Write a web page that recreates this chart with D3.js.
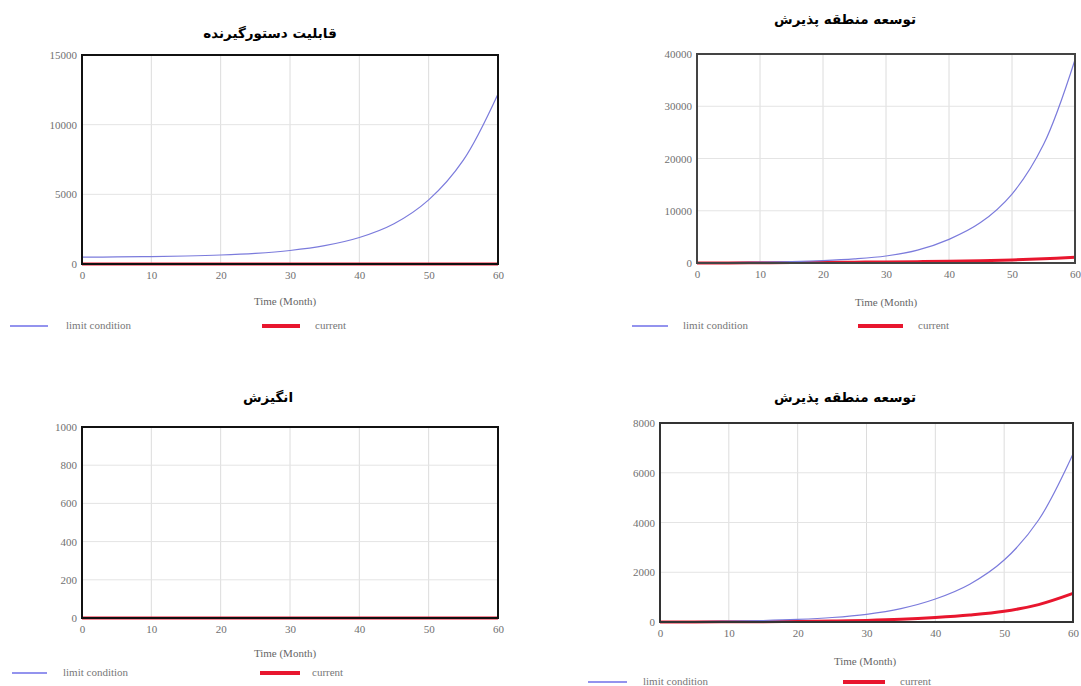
<!DOCTYPE html>
<html>
<head>
<meta charset="utf-8">
<script src="https://cdn.jsdelivr.net/npm/d3@7"></script>
<style>
  body { margin: 0; background: #fff; }
  svg { display: block; }
</style>
</head>
<body>
<svg id="chart" width="1081" height="686"></svg>
<script>
// ---- data (simulation output, monthly) ----
const months = [0, 5, 10, 15, 20, 25, 30, 35, 40, 45, 50, 55, 60];

const titles = ["قابلیت دستورگیرنده", "توسعه منطقه پذیرش", "انگیزش", "توسعه منطقه پذیرش"];
const seriesNames = ["limit condition", "current"];
const xLabel = "Time (Month)";
const xTicks = [0, 10, 20, 30, 40, 50, 60];

// panel 1: command-receiving capability
const limitCapability   = [491, 506, 531, 573, 645, 766, 970, 1315, 1900, 2887, 4600, 7450, 12200];
const currentCapability = [0, 0, 0, 0, 0, 0, 0, 0, 0, 0, 0, 0, 0];
const ticksCapability   = [0, 5000, 10000, 15000];

// panel 2: acceptance-zone development
const limitZoneA   = [50, 88, 152, 262, 452, 780, 1340, 2460, 4530, 7730, 13200, 22660, 38900];
const currentZoneA = [0, 20, 50, 80, 120, 160, 200, 260, 330, 430, 580, 800, 1100];
const ticksZoneA   = [0, 10000, 20000, 30000, 40000];

// panel 3: motivation
const limitMotivation   = [1000, 1000, 1000, 1000, 1000, 1000, 1000, 1000, 1000, 1000, 1000, 1000, 1000];
const currentMotivation = [0, 0, 0, 0, 0, 0, 0, 0, 0, 0, 0, 0, 0];
const ticksMotivation   = [0, 200, 400, 600, 800, 1000];

// panel 4: acceptance-zone development
const limitZoneB   = [12, 20, 35, 60, 105, 180, 310, 540, 925, 1520, 2490, 4100, 6750];
const currentZoneB = [0, 3, 8, 15, 25, 40, 65, 108, 180, 280, 430, 700, 1150];
const ticksZoneB   = [0, 2000, 4000, 6000, 8000];

// ---- layout of the four panels ----
const panels = [
  { title: titles[0], limit: limitCapability, current: currentCapability, ticks: ticksCapability,
    box: { l: 82, r: 498, t: 55, b: 264 }, titleX: 270, titleY: 38, xLabY: 302, xLabX: 285,
    legY: 326, leg: [10, 48, 66, 262, 300, 315], frame: "#111" },
  { title: titles[1], limit: limitZoneA, current: currentZoneA, ticks: ticksZoneA,
    box: { l: 697, r: 1075, t: 54, b: 263 }, titleX: 845, titleY: 24, xLabY: 303, xLabX: 886,
    legY: 326, leg: [632, 668, 683, 858, 903, 918], frame: "#444" },
  { title: titles[2], limit: limitMotivation, current: currentMotivation, ticks: ticksMotivation,
    box: { l: 82, r: 498, t: 427, b: 618 }, titleX: 268, titleY: 402, xLabY: 654, xLabX: 285,
    legY: 673, leg: [12, 47, 63, 260, 300, 312], frame: "#111" },
  { title: titles[3], limit: limitZoneB, current: currentZoneB, ticks: ticksZoneB,
    box: { l: 660, r: 1073, t: 423, b: 622 }, titleX: 845, titleY: 402, xLabY: 662, xLabX: 865,
    legY: 682, leg: [588, 627, 643, 843, 885, 900], frame: "#333" }
];

const limitColor = "#7b7bdc";
const currentColor = "#e8162e";
const serif = "'Liberation Serif', 'DejaVu Serif', serif";

const svg = d3.select("#chart");

panels.forEach(p => {
  const g = svg.append("g");
  const x = d3.scaleLinear().domain([0, 60]).range([p.box.l, p.box.r]);
  const y = d3.scaleLinear().domain([0, d3.max(p.ticks)]).range([p.box.b, p.box.t]);

  // title
  g.append("text")
    .attr("x", p.titleX).attr("y", p.titleY)
    .attr("text-anchor", "middle")
    .attr("direction", "rtl")
    .style("font-family", "'DejaVu Sans', sans-serif")
    .style("font-weight", "bold")
    .style("font-size", "13.5px")
    .text(p.title);

  // grid
  g.append("g").selectAll("line")
    .data(xTicks.slice(1, -1)).join("line")
    .attr("x1", d => x(d)).attr("x2", d => x(d))
    .attr("y1", p.box.t).attr("y2", p.box.b)
    .attr("stroke", "#dcdcdc").attr("stroke-width", 1);
  g.append("g").selectAll("line")
    .data(p.ticks.slice(1, -1)).join("line")
    .attr("x1", p.box.l).attr("x2", p.box.r)
    .attr("y1", d => y(d)).attr("y2", d => y(d))
    .attr("stroke", "#e4e4e4").attr("stroke-width", 1);

  // axes (labels only, the frame is drawn separately)
  const xa = g.append("g")
    .attr("transform", `translate(0,${p.box.b})`)
    .call(d3.axisBottom(x).tickValues(xTicks).tickSize(0).tickPadding(7).tickFormat(d3.format("d")));
  const ya = g.append("g")
    .attr("transform", `translate(${p.box.l},0)`)
    .call(d3.axisLeft(y).tickValues(p.ticks).tickSize(0).tickPadding(5).tickFormat(d3.format("d")));
  [xa, ya].forEach(a => {
    a.select(".domain").remove();
    a.selectAll("text")
      .style("font-family", serif)
      .style("font-size", "11px")
      .attr("fill", "#707070");
  });

  // series
  const line = vals => d3.line()
    .x((d, i) => x(months[i]))
    .y(d => y(d))
    .curve(d3.curveCatmullRom.alpha(0.5))(vals);

  g.append("path")
    .attr("d", line(p.current))
    .attr("fill", "none")
    .attr("stroke", currentColor)
    .attr("stroke-width", 3);
  g.append("path")
    .attr("d", line(p.limit))
    .attr("fill", "none")
    .attr("stroke", limitColor)
    .attr("stroke-width", 1.2);

  // frame
  g.append("rect")
    .attr("x", p.box.l).attr("y", p.box.t)
    .attr("width", p.box.r - p.box.l).attr("height", p.box.b - p.box.t)
    .attr("fill", "none").attr("stroke", p.frame).attr("stroke-width", 2);

  // x-axis title
  g.append("text")
    .attr("x", p.xLabX).attr("y", p.xLabY)
    .attr("text-anchor", "middle")
    .attr("dominant-baseline", "middle")
    .style("font-family", serif)
    .style("font-size", "11px")
    .attr("fill", "#666")
    .text(xLabel);

  // legend
  const [b1, b2, bt, r1, r2, rt] = p.leg;
  g.append("line").attr("x1", b1).attr("x2", b2).attr("y1", p.legY).attr("y2", p.legY)
    .attr("stroke", "#6f6fe8").attr("stroke-width", 1.5);
  g.append("text").attr("x", bt).attr("y", p.legY).attr("dominant-baseline", "middle")
    .style("font-family", serif).style("font-size", "11px").attr("fill", "#777")
    .text(seriesNames[0]);
  g.append("line").attr("x1", r1).attr("x2", r2).attr("y1", p.legY).attr("y2", p.legY)
    .attr("stroke", currentColor).attr("stroke-width", 4);
  g.append("text").attr("x", rt).attr("y", p.legY).attr("dominant-baseline", "middle")
    .style("font-family", serif).style("font-size", "11px").attr("fill", "#777")
    .text(seriesNames[1]);
});
</script>
</body>
</html>
